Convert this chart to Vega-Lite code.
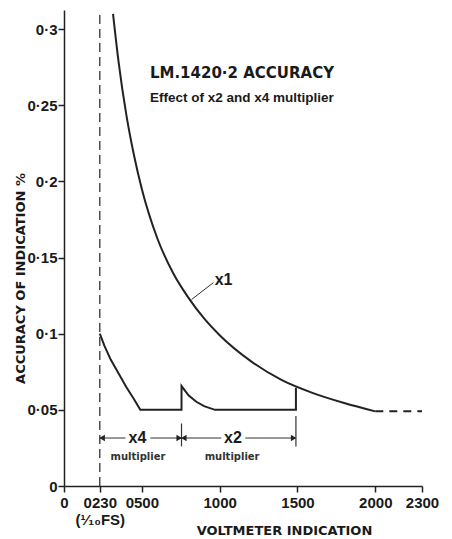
{
  "$schema": "https://vega.github.io/schema/vega-lite/v6.json",
  "autosize": {"type": "none"},
  "padding": {"left": 64, "top": 10, "right": 30, "bottom": 53},
  "width": 358,
  "height": 476,
  "background": "white",
  "config": {
    "view": {"stroke": null},
    "font": "Liberation Sans",
    "axis": {
      "domainColor": "#222", "domainWidth": 1.5, "tickColor": "#222", "tickWidth": 1.5,
      "labelFont": "Liberation Sans", "labelFontWeight": "bold", "labelFontSize": 15, "labelColor": "#1a1a1a",
      "titleFont": "DejaVu Sans", "titleFontWeight": "bold", "titleFontSize": 13, "titleColor": "#1a1a1a",
      "grid": false
    }
  },
  "datasets": {
    "x1": [
      {"v": 315, "acc": 0.31}, {"v": 350, "acc": 0.279}, {"v": 400, "acc": 0.244}, {"v": 450, "acc": 0.217},
      {"v": 500, "acc": 0.195}, {"v": 600, "acc": 0.1625}, {"v": 700, "acc": 0.14}, {"v": 800, "acc": 0.1235},
      {"v": 900, "acc": 0.11}, {"v": 1000, "acc": 0.099}, {"v": 1200, "acc": 0.082}, {"v": 1400, "acc": 0.0695},
      {"v": 1600, "acc": 0.061}, {"v": 1800, "acc": 0.0545}, {"v": 2000, "acc": 0.049}
    ],
    "x1ext": [{"v": 2000, "acc": 0.049}, {"v": 2300, "acc": 0.049}],
    "mult": [
      {"i": 1, "v": 230, "acc": 0.1}, {"i": 2, "v": 260, "acc": 0.092}, {"i": 3, "v": 300, "acc": 0.083},
      {"i": 4, "v": 350, "acc": 0.074}, {"i": 5, "v": 400, "acc": 0.065}, {"i": 6, "v": 450, "acc": 0.057},
      {"i": 7, "v": 490, "acc": 0.05}, {"i": 8, "v": 755, "acc": 0.05}, {"i": 9, "v": 755, "acc": 0.0656},
      {"i": 10, "v": 800, "acc": 0.0595}, {"i": 11, "v": 850, "acc": 0.0553}, {"i": 12, "v": 900, "acc": 0.0524},
      {"i": 13, "v": 970, "acc": 0.05}, {"i": 14, "v": 1490, "acc": 0.05}, {"i": 15, "v": 1490, "acc": 0.0645}
    ],
    "segs": [
      {"a": 230, "b": 395, "y": 0.0315}, {"a": 555, "b": 750, "y": 0.0315},
      {"a": 760, "b": 1010, "y": 0.0315}, {"a": 1165, "b": 1485, "y": 0.0315},
      {"a": 820, "b": 960, "y": 0.1225, "y2": 0.1335}
    ],
    "ticks": [{"v": 755, "lo": 0.026, "hi": 0.041}, {"v": 1490, "lo": 0.026, "hi": 0.046}],
    "heads": [
      {"v": 245, "y": 0.0315, "dir": "left"}, {"v": 740, "y": 0.0315, "dir": "right"},
      {"v": 770, "y": 0.0315, "dir": "left"}, {"v": 1475, "y": 0.0315, "dir": "right"}
    ],
    "big": [
      {"v": 472, "y": 0.0315, "t": "x4"}, {"v": 1085, "y": 0.0315, "t": "x2"}
    ],
    "lab1": [{"v": 968, "y": 0.1355, "t": "x1"}],
    "small": [{"v": 475, "y": 0.019, "t": "multiplier"}, {"v": 1080, "y": 0.019, "t": "multiplier"}],
    "heading1": [{"v": 552, "y": 0.271, "t": "LM.1420·2 ACCURACY"}],
    "heading2": [{"v": 552, "y": 0.2546, "t": "Effect of x2 and x4 multiplier"}]
  },
  "layer": [
    {
      "data": {"values": [{"v": 230}]},
      "mark": {"type": "rule", "color": "#333", "strokeWidth": 1.3, "strokeDash": [9, 5]},
      "encoding": {
        "x": {"field": "v", "type": "quantitative", "scale": {"domain": [0, 2300], "nice": false},
          "axis": {"values": [0, 230, 500, 1000, 1500, 2000, 2300], "format": "d", "tickSize": 6,
            "labelExpr": "datum.value == 230 ? ['0230', '(¹⁄₁₀FS)'] : datum.value == 500 ? '0500' : datum.label",
            "labelPadding": 3, "labelOverlap": false, "labelFlush": false,
            "title": "VOLTMETER INDICATION", "titleX": 220, "titleY": 38}},
        "y": {"datum": 0, "type": "quantitative", "scale": {"domain": [0, 0.3125], "nice": false},
          "axis": {"values": [0, 0.05, 0.1, 0.15, 0.2, 0.25, 0.3], "tickSize": 6, "labelFlush": false,
            "labelExpr": "replace(toString(datum.value), '.', '·')", "labelPadding": 1,
            "title": "ACCURACY OF INDICATION %", "titleX": -37, "titleY": 268}},
        "y2": {"datum": 0.3125}
      }
    },
    {
      "data": {"name": "x1"},
      "mark": {"type": "line", "color": "#222", "strokeWidth": 2, "interpolate": "monotone"},
      "encoding": {"x": {"field": "v", "type": "quantitative"}, "y": {"field": "acc", "type": "quantitative"}}
    },
    {
      "data": {"name": "x1ext"},
      "mark": {"type": "line", "color": "#222", "strokeWidth": 2, "strokeDash": [8, 6]},
      "encoding": {"x": {"field": "v", "type": "quantitative"}, "y": {"field": "acc", "type": "quantitative"}}
    },
    {
      "data": {"name": "mult"},
      "mark": {"type": "line", "color": "#222", "strokeWidth": 2, "interpolate": "linear"},
      "encoding": {"x": {"field": "v", "type": "quantitative"}, "y": {"field": "acc", "type": "quantitative"},
        "order": {"field": "i", "type": "quantitative"}}
    },
    {
      "data": {"name": "segs"},
      "transform": [{"filter": "datum.y2 == null"}],
      "mark": {"type": "rule", "color": "#333", "strokeWidth": 1},
      "encoding": {"x": {"field": "a", "type": "quantitative"}, "x2": {"field": "b"}, "y": {"field": "y", "type": "quantitative"}}
    },
    {
      "data": {"name": "segs"},
      "transform": [{"filter": "datum.y2 != null"}],
      "mark": {"type": "rule", "color": "#333", "strokeWidth": 1},
      "encoding": {"x": {"field": "a", "type": "quantitative"}, "x2": {"field": "b"}, "y": {"field": "y", "type": "quantitative"}, "y2": {"field": "y2"}}
    },
    {
      "data": {"name": "ticks"},
      "mark": {"type": "rule", "color": "#333", "strokeWidth": 1.2},
      "encoding": {"x": {"field": "v", "type": "quantitative"}, "y": {"field": "lo", "type": "quantitative"}, "y2": {"field": "hi"}}
    },
    {
      "data": {"name": "heads"},
      "transform": [{"filter": "datum.dir == 'left'"}],
      "mark": {"type": "point", "shape": "triangle-left", "filled": true, "color": "#222", "size": 40, "opacity": 1},
      "encoding": {"x": {"field": "v", "type": "quantitative"}, "y": {"field": "y", "type": "quantitative"}}
    },
    {
      "data": {"name": "heads"},
      "transform": [{"filter": "datum.dir == 'right'"}],
      "mark": {"type": "point", "shape": "triangle-right", "filled": true, "color": "#222", "size": 40, "opacity": 1},
      "encoding": {"x": {"field": "v", "type": "quantitative"}, "y": {"field": "y", "type": "quantitative"}}
    },
    {
      "data": {"name": "big"},
      "mark": {"type": "text", "fontWeight": "bold", "fontSize": 16, "color": "#1a1a1a", "baseline": "middle"},
      "encoding": {"x": {"field": "v", "type": "quantitative"}, "y": {"field": "y", "type": "quantitative"}, "text": {"field": "t"}}
    },
    {
      "data": {"name": "lab1"},
      "mark": {"type": "text", "fontWeight": "bold", "fontSize": 16, "color": "#1a1a1a", "baseline": "middle", "align": "left"},
      "encoding": {"x": {"field": "v", "type": "quantitative"}, "y": {"field": "y", "type": "quantitative"}, "text": {"field": "t"}}
    },
    {
      "data": {"name": "small"},
      "mark": {"type": "text", "font": "DejaVu Sans", "fontWeight": "bold", "fontSize": 10, "color": "#333", "baseline": "middle"},
      "encoding": {"x": {"field": "v", "type": "quantitative"}, "y": {"field": "y", "type": "quantitative"}, "text": {"field": "t"}}
    },
    {
      "data": {"name": "heading1"},
      "mark": {"type": "text", "font": "DejaVu Sans", "fontWeight": "bold", "fontSize": 15, "color": "#1a1a1a", "align": "left", "baseline": "middle"},
      "encoding": {"x": {"field": "v", "type": "quantitative"}, "y": {"field": "y", "type": "quantitative"}, "text": {"field": "t"}}
    },
    {
      "data": {"name": "heading2"},
      "mark": {"type": "text", "fontWeight": "bold", "fontSize": 13.5, "color": "#1a1a1a", "align": "left", "baseline": "middle"},
      "encoding": {"x": {"field": "v", "type": "quantitative"}, "y": {"field": "y", "type": "quantitative"}, "text": {"field": "t"}}
    }
  ]
}
